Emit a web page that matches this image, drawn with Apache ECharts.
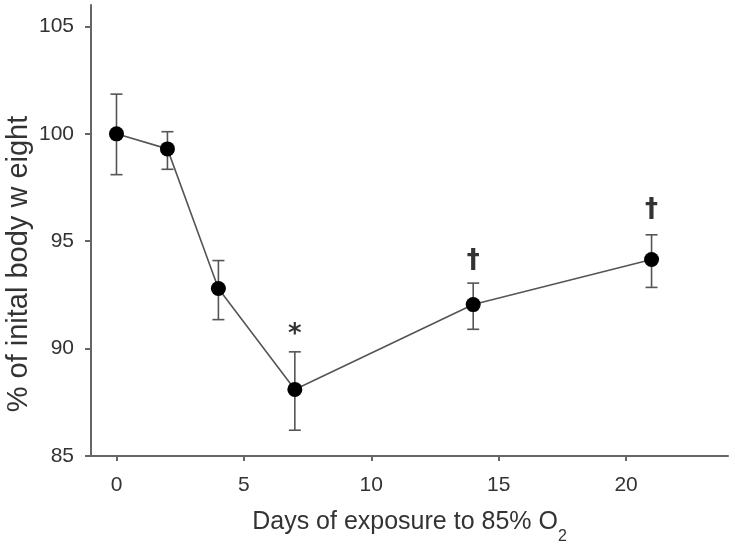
<!DOCTYPE html>
<html>
<head>
<meta charset="utf-8">
<script src="https://cdn.jsdelivr.net/npm/echarts@6/dist/echarts.min.js"></script>
<style>
  html, body { margin: 0; padding: 0; background: #fff; }
  #chart { width: 735px; height: 549px; }
</style>
</head>
<body>
<div id="chart"></div>
<script>
// 数据
var days = [0, 2, 4, 7, 14, 21];
var weight = [100.0, 99.3, 92.8, 88.1, 92.05, 94.15];
var errHigh = [101.85, 100.1, 94.1, 89.85, 93.05, 95.3];
var errLow = [98.1, 98.35, 91.35, 86.2, 90.9, 92.85];
// 刻度
var xTicks = [0, 5, 10, 15, 20];
var yTicks = [85, 90, 95, 100, 105];
// 显著性标记
var markDays = [7, 14, 21];
var markVals = [90.6, 94.05, 96.45];
var markText = ['*', '†', '†'];

var myChart = echarts.init(document.getElementById('chart'));

var lineData = days.map(function (d, i) { return [d, weight[i]]; });
var errData = days.map(function (d, i) { return [d, errLow[i], errHigh[i]]; });
var markData = markDays.map(function (d, i) { return { value: [d, markVals[i]], label: { formatter: markText[i] } }; });

var option = {
  animation: false,
  grid: { left: 91, right: 7, top: 5, bottom: 93, outerBoundsMode: 'none' },
  // y轴标题（偏下放置）
  graphic: [{
    type: 'text',
    x: 19,
    y: 264,
    rotation: Math.PI / 2,
    style: {
      text: '% of inital body w eight',
      fill: '#333',
      fontSize: 29,
      fontFamily: 'Liberation Sans',
      align: 'center',
      verticalAlign: 'middle'
    }
  }],
  xAxis: {
    type: 'value',
    min: -1,
    max: 24,
    name: 'Days of exposure to 85% O{sub|2}',
    nameLocation: 'middle',
    nameGap: 54,
    nameTextStyle: {
      color: '#333', fontSize: 25, fontFamily: 'Liberation Sans',
      rich: { sub: { fontSize: 16, verticalAlign: 'bottom', padding: [0, 0, -10, 0], color: '#333', fontFamily: 'Liberation Sans' } }
    },
    axisLine: { onZero: false, lineStyle: { color: '#666', width: 2 } },
    axisTick: { inside: false, length: 5, customValues: xTicks, lineStyle: { color: '#666', width: 2 } },
    axisLabel: {
      color: '#333', fontSize: 21, fontFamily: 'Liberation Sans', margin: 19,
      customValues: xTicks
    },
    splitLine: { show: false }
  },
  yAxis: {
    type: 'value',
    min: 85,
    max: 106,
    axisLine: { show: true, onZero: false, lineStyle: { color: '#666', width: 2 } },
    axisTick: { show: true, length: 6, customValues: yTicks, lineStyle: { color: '#666', width: 2 } },
    axisLabel: { color: '#333', fontSize: 21, fontFamily: 'Liberation Sans', margin: 17, customValues: yTicks },
    splitLine: { show: false }
  },
  series: [
    {
      // 误差线
      type: 'custom',
      data: errData,
      z: 1,
      renderItem: function (params, api) {
        var x = api.value(0);
        var lo = api.coord([x, api.value(1)]);
        var hi = api.coord([x, api.value(2)]);
        var w = 6;
        var style = { stroke: '#555', lineWidth: 1.6 };
        return {
          type: 'group',
          children: [
            { type: 'line', shape: { x1: hi[0], y1: hi[1], x2: lo[0], y2: lo[1] }, style: style },
            { type: 'line', shape: { x1: hi[0] - w, y1: hi[1], x2: hi[0] + w, y2: hi[1] }, style: style },
            { type: 'line', shape: { x1: lo[0] - w, y1: lo[1], x2: lo[0] + w, y2: lo[1] }, style: style }
          ]
        };
      }
    },
    {
      type: 'line',
      data: lineData,
      z: 2,
      symbol: 'circle',
      symbolSize: 15,
      lineStyle: { color: '#555', width: 1.6 },
      itemStyle: { color: '#000' }
    },
    {
      // 标记文字
      type: 'scatter',
      data: markData,
      symbolSize: 0,
      label: {
        show: true,
        position: 'inside',
        color: '#000',
        fontSize: 26,
        fontWeight: 'bold',
        fontFamily: 'DejaVu Sans'
      }
    }
  ]
};
myChart.setOption(option);
window.addEventListener('resize', function () {
  myChart.resize();
});
</script>
</body>
</html>
